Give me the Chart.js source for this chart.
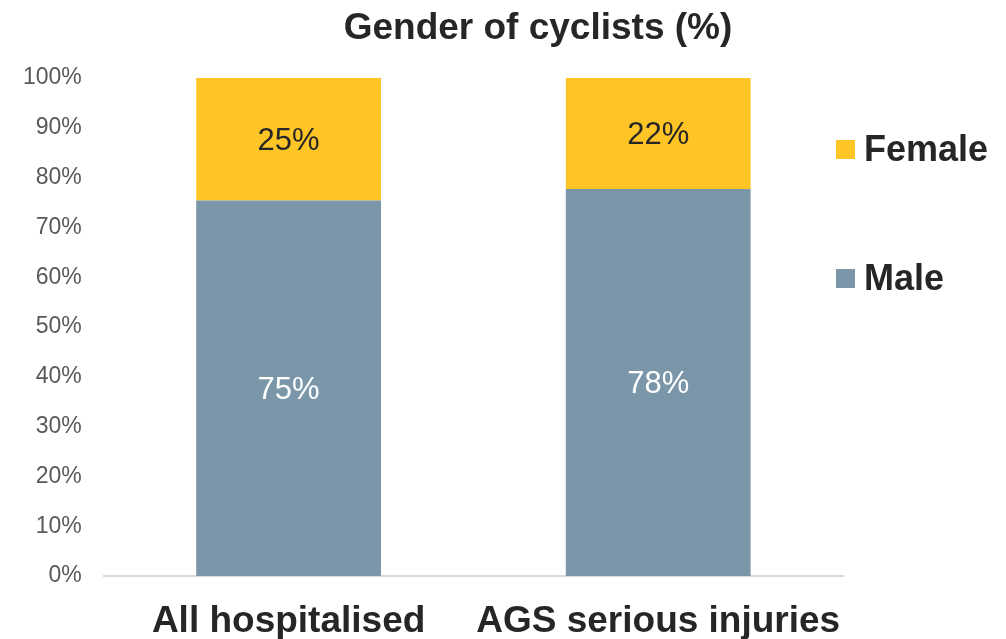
<!DOCTYPE html>
<html>
<head>
<meta charset="utf-8">
<script src="https://cdn.jsdelivr.net/npm/chart.js@4.4.0/dist/chart.umd.min.js"></script>
<style>
  html, body { margin: 0; padding: 0; background: #fff; }
  #wrap { width: 1006px; height: 639px; position: relative; }
</style>
</head>
<body>
<div id="wrap"><canvas id="myChart"></canvas></div>
<script>
// chart data
var chartTitle = 'Gender of cyclists (%)';
var categories = ['All hospitalised', 'AGS serious injuries'];
var maleValues = [75.4, 77.7];
var femaleValues = [24.6, 22.3];
var seriesNames = ['Male', 'Female'];
var seriesColors = ['#7B96A9', '#FFC425'];
var labelColors = ['#ffffff', '#262626'];

// title + value labels + legend drawn on the canvas
var extrasPlugin = {
    id: 'extras',
    afterDraw: function(chart) {
        var ctx = chart.ctx;
        ctx.save();

        // title
        ctx.fillStyle = '#262626';
        ctx.font = 'bold 37px "Liberation Sans", Arial, sans-serif';
        ctx.textAlign = 'center';
        ctx.textBaseline = 'middle';
        ctx.fillText(chartTitle, 538, 29);

        // value labels inside the segments
        chart.data.datasets.forEach(function(ds, i) {
            var meta = chart.getDatasetMeta(i);
            meta.data.forEach(function(bar, j) {
                var mid = (bar.y + bar.base) / 2;
                ctx.fillStyle = labelColors[i];
                ctx.font = '31px "Liberation Sans", Arial, sans-serif';
                ctx.fillText(Math.round(ds.data[j]) + '%', bar.x, mid + 2);
            });
        });

        // legend on the right (Female on top)
        var legendY = [150, 279];
        var order = [1, 0];
        order.forEach(function(di, k) {
            var ds = chart.data.datasets[di];
            ctx.fillStyle = ds.backgroundColor;
            ctx.fillRect(836, legendY[k] - 10, 19, 19);
            ctx.fillStyle = '#262626';
            ctx.font = 'bold 36px "Liberation Sans", Arial, sans-serif';
            ctx.textAlign = 'left';
            ctx.fillText(ds.label, 864, legendY[k] + 1);
            ctx.textAlign = 'center';
        });

        ctx.restore();
    }
};

var ctx = document.getElementById('myChart').getContext('2d');
var myChart = new Chart(ctx, {
    type: 'bar',
    data: {
        labels: categories,
        datasets: [{
            label: seriesNames[0],
            data: maleValues,
            backgroundColor: seriesColors[0],
            barPercentage: 0.5,
            categoryPercentage: 1.0
        }, {
            label: seriesNames[1],
            data: femaleValues,
            backgroundColor: seriesColors[1],
            barPercentage: 0.5,
            categoryPercentage: 1.0
        }]
    },
    options: {
        responsive: true,
        maintainAspectRatio: false,
        animation: false,
        layout: {
            padding: { top: 78, right: 163, left: 1, bottom: 0 }
        },
        plugins: {
            legend: { display: false },
            title: { display: false },
            tooltip: { enabled: false }
        },
        scales: {
            x: {
                stacked: true,
                grid: { display: false, drawTicks: false },
                border: { display: true, color: '#d9d9d9', width: 2 },
                afterFit: function(scale) { scale.height = 63; },
                ticks: {
                    color: '#262626',
                    padding: 24,
                    maxRotation: 0,
                    minRotation: 0,
                    autoSkip: false,
                    font: { family: '"Liberation Sans", Arial, sans-serif', size: 37, weight: 'bold' }
                }
            },
            y: {
                stacked: true,
                min: 0,
                max: 100,
                grid: { display: false, drawTicks: false },
                border: { display: false },
                ticks: {
                    stepSize: 10,
                    color: '#595959',
                    padding: 22,
                    font: { family: '"Liberation Sans", Arial, sans-serif', size: 23 },
                    callback: function(v) { return v + '%'; }
                }
            }
        }
    },
    plugins: [extrasPlugin]
});
</script>
</body>
</html>
